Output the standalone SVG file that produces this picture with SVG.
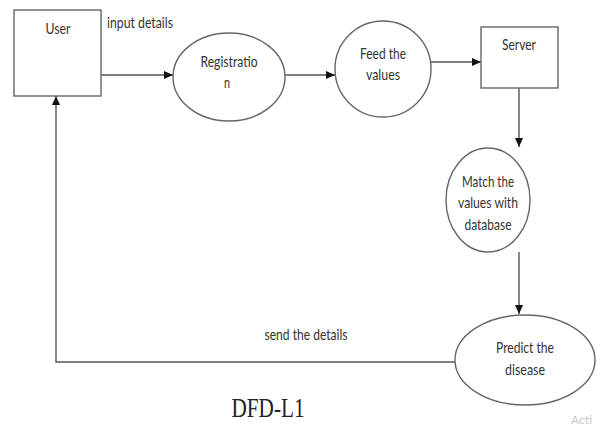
<svg xmlns="http://www.w3.org/2000/svg" width="596" height="444" viewBox="0 0 596 444">
<style>
.shape{fill:#fff;stroke:#666;stroke-width:1.4}
.conn{fill:none;stroke:#555;stroke-width:1.4}
.lbl{font-family:Lato,"Open Sans","Liberation Sans",sans-serif;font-size:16px;fill:#333;text-anchor:middle}
.title{font-family:"Liberation Serif",serif;font-size:27px;fill:#222;text-anchor:middle}
</style>
<defs>
<marker id="ah" markerWidth="9" markerHeight="8" refX="9" refY="4" orient="auto" markerUnits="userSpaceOnUse">
<path d="M0,0 L9,4 L0,8 Z" fill="#111"/>
</marker>
</defs>
<rect width="596" height="444" fill="#fff"/>
<g id="connectors">
<line class="conn" x1="101" y1="75" x2="173" y2="75" marker-end="url(#ah)"/>
<line class="conn" x1="285" y1="75" x2="335" y2="75" marker-end="url(#ah)"/>
<line class="conn" x1="430" y1="62" x2="481" y2="62" marker-end="url(#ah)"/>
<line class="conn" x1="519" y1="88" x2="519" y2="147" marker-end="url(#ah)"/>
<line class="conn" x1="519" y1="252" x2="519" y2="314" marker-end="url(#ah)"/>
<polyline class="conn" points="455,362 56,362 56,96" marker-end="url(#ah)"/>
<text class="lbl" x="140" y="28" textLength="66" lengthAdjust="spacingAndGlyphs">input details</text>
<text class="lbl" x="306" y="340" textLength="83" lengthAdjust="spacingAndGlyphs">send the details</text>
</g>
<g id="user">
<rect class="shape" x="14" y="10" width="87" height="86"/>
<text class="lbl" x="58" y="34" textLength="25" lengthAdjust="spacingAndGlyphs">User</text>
</g>
<g id="registration">
<ellipse class="shape" cx="229" cy="77" rx="56" ry="44"/>
<text class="lbl" x="229" y="67" textLength="57" lengthAdjust="spacingAndGlyphs">Registratio</text>
<text class="lbl" x="227" y="88" textLength="6" lengthAdjust="spacingAndGlyphs">n</text>
</g>
<g id="feed">
<circle class="shape" cx="383" cy="69" r="48"/>
<text class="lbl" x="383" y="59" textLength="46" lengthAdjust="spacingAndGlyphs">Feed the</text>
<text class="lbl" x="383" y="80" textLength="34" lengthAdjust="spacingAndGlyphs">values</text>
</g>
<g id="server">
<rect class="shape" x="481" y="27" width="77" height="61"/>
<text class="lbl" x="519" y="50" textLength="34" lengthAdjust="spacingAndGlyphs">Server</text>
</g>
<g id="match">
<ellipse class="shape" cx="488" cy="200" rx="42" ry="52"/>
<text class="lbl" x="488" y="187" textLength="52" lengthAdjust="spacingAndGlyphs">Match the</text>
<text class="lbl" x="488" y="208" textLength="60" lengthAdjust="spacingAndGlyphs">values with</text>
<text class="lbl" x="488" y="230" textLength="47" lengthAdjust="spacingAndGlyphs">database</text>
</g>
<g id="predict">
<ellipse class="shape" cx="525" cy="360" rx="70" ry="45"/>
<text class="lbl" x="525" y="353" textLength="58" lengthAdjust="spacingAndGlyphs">Predict the</text>
<text class="lbl" x="525" y="375" textLength="40" lengthAdjust="spacingAndGlyphs">disease</text>
</g>
<text class="title" x="268" y="417" textLength="73" lengthAdjust="spacingAndGlyphs">DFD-L1</text>
<text x="571" y="424" font-family="Lato,sans-serif" font-size="12" fill="#c8c8c8">Acti</text>
</svg>
